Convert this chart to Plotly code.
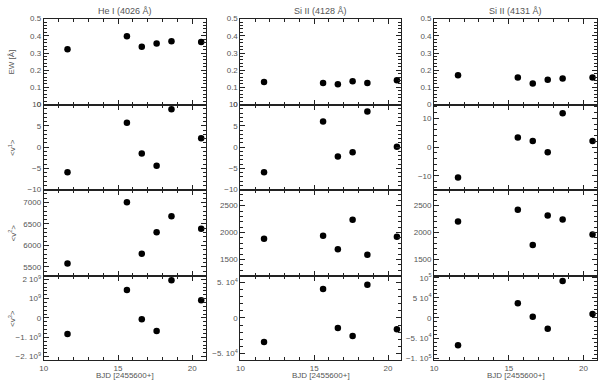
import plotly.graph_objects as go

# Datas das observações (BJD - 2455600)
bjd = [11.6, 15.6, 16.6, 17.6, 18.6, 20.6]

# Títulos das colunas (linhas espectrais)
titulos = ["He I (4026 Å)", "Si II (4128 Å)", "Si II (4131 Å)"]
rotulos_y = ["EW [Å]", "<v<sup>1</sup>>", "<v<sup>2</sup>>", "<v<sup>3</sup>>"]

# Largura equivalente
ew_he = [0.322, 0.398, 0.337, 0.356, 0.369, 0.364]
ew_si4128 = [0.131, 0.125, 0.119, 0.136, 0.125, 0.142]
ew_si4131 = [0.170, 0.157, 0.123, 0.144, 0.152, 0.157]

# Primeiro momento
v1_he = [-5.9, 5.7, -1.5, -4.4, 8.9, 2.1]
v1_si4128 = [-5.9, 6.0, -2.2, -1.2, 8.4, 0.1]
v1_si4131 = [-10.6, 3.3, 2.1, -1.8, 11.8, 2.1]

# Segundo momento
v2_he = [5580, 7005, 5807, 6307, 6680, 6390]
v2_si4128 = [1885, 1940, 1690, 2236, 1587, 1922]
v2_si4131 = [2205, 2424, 1770, 2315, 2242, 1964]

# Terceiro momento
v3_he = [-0.83e9, 1.45e9, -0.06e9, -0.67e9, 1.96e9, 0.92e9]
v3_si4128 = [-3.4e4, 4.1e4, -1.4e4, -2.55e4, 4.7e4, -1.6e4]
v3_si4131 = [-6.8e4, 3.7e4, 0.3e4, -2.7e4, 9.2e4, 1.0e4]

# Ticks dos eixos y
ticks_ew = [0, 0.1, 0.2, 0.3, 0.4, 0.5]
ticks_ew_txt = ["0", "0.1", "0.2", "0.3", "0.4", "0.5"]
ticks_v1 = [-10, -5, 0, 5, 10]
ticks_v1_txt = ["−10", "−5", "0", "5", "10"]
ticks_v1b = [-10, 0, 10]
ticks_v1b_txt = ["−10", "0", "10"]
ticks_v2_he = [5500, 6000, 6500, 7000]
ticks_v2_si = [1500, 2000, 2500]
ticks_v3_he = [-2e9, -1e9, 0, 1e9, 2e9]
ticks_v3_he_txt = ["−2. 10<sup>9</sup>", "−1. 10<sup>9</sup>", "0", "10<sup>9</sup>", "2 10<sup>9</sup>"]
ticks_v3_a = [-5e4, 0, 5e4]
ticks_v3_a_txt = ["−5. 10<sup>4</sup>", "0", "5. 10<sup>4</sup>"]
ticks_v3_b = [-1e5, -5e4, 0, 5e4, 1e5]
ticks_v3_b_txt = ["−1. 10<sup>5</sup>", "−5. 10<sup>4</sup>", "0", "5 10<sup>4</sup>", "10<sup>5</sup>"]

# Painéis: [linha][coluna] = (valores, faixa, tickvals, ticktext, minor dtick)
paineis = [
    [(ew_he, [0, 0.5], ticks_ew, ticks_ew_txt, 0.02),
     (ew_si4128, [0, 0.5], ticks_ew, ticks_ew_txt, 0.02),
     (ew_si4131, [0, 0.5], ticks_ew, ticks_ew_txt, 0.02)],
    [(v1_he, [-10, 10], ticks_v1, ticks_v1_txt, 1),
     (v1_si4128, [-10, 10], ticks_v1, ticks_v1_txt, 1),
     (v1_si4131, [-14.8, 14.8], ticks_v1b, ticks_v1b_txt, 2)],
    [(v2_he, [5300, 7300], ticks_v2_he, [str(t) for t in ticks_v2_he], 100),
     (v2_si4128, [1200, 2800], ticks_v2_si, [str(t) for t in ticks_v2_si], 100),
     (v2_si4131, [1200, 2800], ticks_v2_si, [str(t) for t in ticks_v2_si], 100)],
    [(v3_he, [-2.2e9, 2.2e9], ticks_v3_he, ticks_v3_he_txt, 2e8),
     (v3_si4128, [-6e4, 6e4], ticks_v3_a, ticks_v3_a_txt, 1e4),
     (v3_si4131, [-1.06e5, 1.06e5], ticks_v3_b, ticks_v3_b_txt, 1e4)],
]

W, H = 600, 385
colunas_px = [(40, 203), (238, 400), (433, 597)]
linhas_px = [(15, 103), (103, 190), (190, 278), (278, 365)]

fonte = dict(family="Liberation Sans, Arial, sans-serif", size=8, color="#555")
cor_linha = "#222"

fig = go.Figure()
layout = {}

for r in range(4):
    for c in range(3):
        k = r * 3 + c + 1
        sx = "" if k == 1 else str(k)
        valores, faixa, tv, tt, mdt = paineis[r][c]

        fig.add_trace(go.Scatter(
            x=bjd, y=valores, mode="markers",
            marker=dict(color="black", size=6.5),
            xaxis="x" + sx, yaxis="y" + sx, showlegend=False,
        ))

        x0, x1 = colunas_px[c]
        y0, y1 = linhas_px[r]
        layout["xaxis" + sx] = dict(
            domain=[x0 / W, x1 / W], range=[10, 20.9], anchor="y" + sx,
            tickvals=[10, 15, 20], ticktext=["10", "15", "20"],
            showticklabels=(r == 3), ticks="inside", ticklen=5,
            tickcolor=cor_linha, showline=True, linecolor=cor_linha, linewidth=1,
            mirror="allticks", showgrid=False, zeroline=False, tickfont=fonte,
            minor=dict(dtick=1, ticks="inside", ticklen=3, tickcolor=cor_linha),
        )
        layout["yaxis" + sx] = dict(
            domain=[1 - y1 / H, 1 - y0 / H], range=faixa, anchor="x" + sx,
            tickvals=tv, ticktext=tt, ticks="inside", ticklen=5,
            tickcolor=cor_linha, showline=True, linecolor=cor_linha, linewidth=1,
            mirror="allticks", showgrid=False, zeroline=False, tickfont=fonte,
            minor=dict(dtick=mdt, tick0=0, ticks="inside", ticklen=3, tickcolor=cor_linha),
        )

# Títulos das colunas e rótulos dos eixos
anotacoes = []
for c, t in enumerate(titulos):
    x0, x1 = colunas_px[c]
    anotacoes.append(dict(
        text=t, x=(x0 + x1) / 2 / W, y=1 - 7 / H, xref="paper", yref="paper",
        showarrow=False, font=dict(fonte, size=9), xanchor="center", yanchor="middle",
    ))
    anotacoes.append(dict(
        text="BJD [2455600+]", x=(x0 + x1) / 2 / W, y=1 - 380 / H,
        xref="paper", yref="paper", showarrow=False, font=fonte,
        xanchor="center", yanchor="middle",
    ))
for r, t in enumerate(rotulos_y):
    y0, y1 = linhas_px[r]
    anotacoes.append(dict(
        text=t, x=8 / W, y=1 - (y0 + y1) / 2 / H, xref="paper", yref="paper",
        showarrow=False, font=fonte, textangle=-90, xanchor="center", yanchor="middle",
    ))

fig.update_layout(
    **layout,
    annotations=anotacoes,
    width=W, height=H,
    margin=dict(l=0, r=0, t=0, b=0),
    paper_bgcolor="white", plot_bgcolor="white",
)

# Remove a margem padrão do corpo da página para o gráfico ocupar toda a janela
fig.write_html("out.html", config={"displayModeBar": False},
               post_script="document.body.style.margin='0';")
